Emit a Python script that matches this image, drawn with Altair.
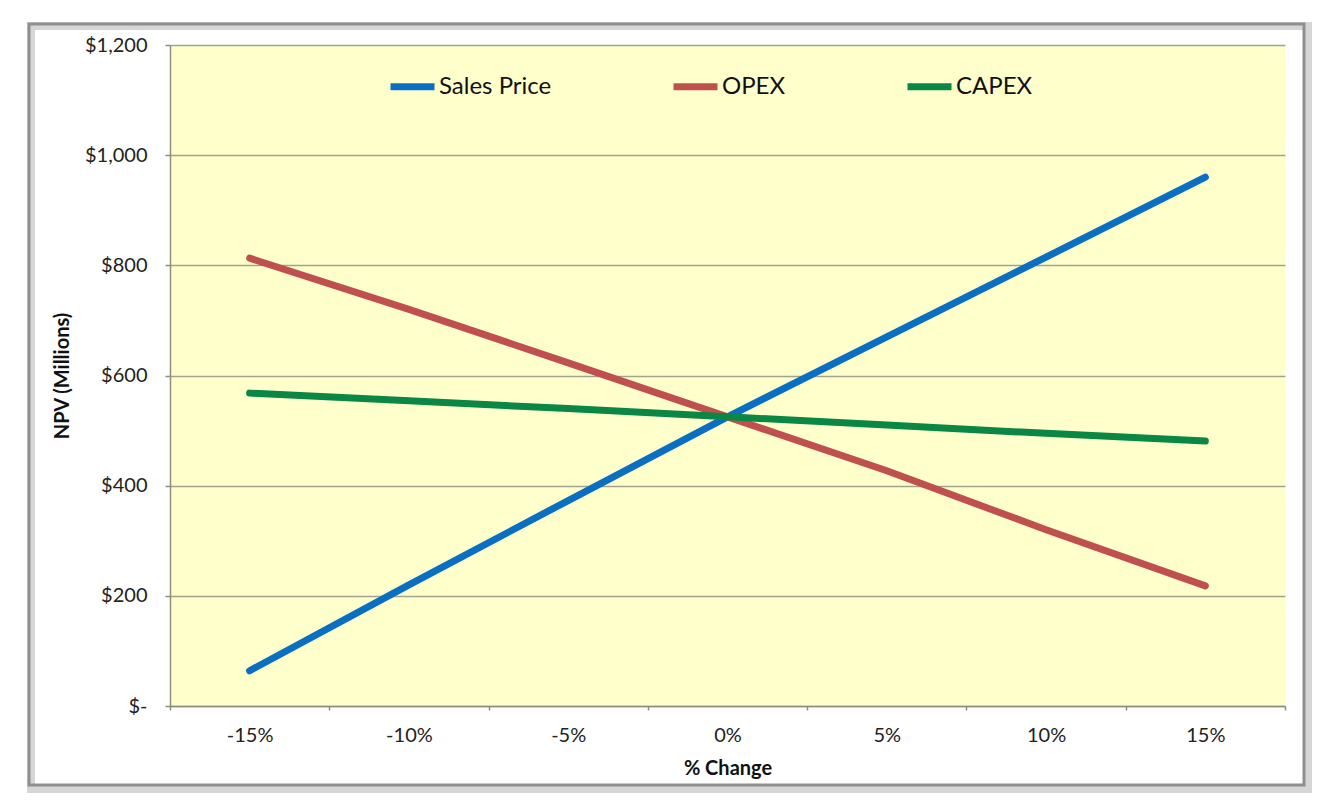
import altair as alt
import pandas as pd

categories = ["-15%", "-10%", "-5%", "0%", "5%", "10%", "15%"]
series_names = ["Sales Price", "OPEX", "CAPEX"]
sales_price = [64, 220, 373, 525, 670, 815, 960]
opex = [813, 720, 623, 525, 427, 320, 218]
capex = [568, 554, 540, 525, 510, 495, 481]
y_ticks = [0, 200, 400, 600, 800, 1000, 1200]
colors = ["#0A6FC2", "#C0504D", "#0A8645"]

rows = []
for name, vals in zip(series_names, [sales_price, opex, capex]):
    for c, v in zip(categories, vals):
        rows.append({"change": c, "series": name, "npv": v})
df = pd.DataFrame(rows)

FONT = "Lato"

W, H = 1115, 661

x_enc = alt.X(
    "change:N",
    sort=categories,
    scale=alt.Scale(paddingInner=0, paddingOuter=0),
    axis=alt.Axis(
        title="% Change",
        labelAngle=0,
        tickBand="extent",
        tickSize=4,
        labelPadding=15,
        labelFontSize=20,
        labelFont=FONT,
        labelColor="#222222",
        titleFontSize=20,
        titleFont=FONT,
        titleFontWeight="bold",
        titleColor="#111111",
        titlePadding=13,
        domainColor="#8E8E7E",
        domainWidth=1.5,
        tickColor="#8E8E7E",
        tickWidth=1.5,
        grid=False,
    ),
)

y_enc = alt.Y(
    "npv:Q",
    scale=alt.Scale(domain=[0, 1200], nice=False, zero=True),
    axis=alt.Axis(
        title="NPV (Millions)",
        values=y_ticks,
        labelExpr="datum.value == 0 ? '$-' : '$' + format(datum.value, ',')",
        tickSize=5,
        labelPadding=18,
        labelFontSize=20,
        labelFont=FONT,
        labelColor="#222222",
        titleFontSize=20,
        titleFont=FONT,
        titleFontWeight="bold",
        titleColor="#111111",
        titlePadding=12,
        domainColor="#8E8E7E",
        domainWidth=1.5,
        tickColor="#8E8E7E",
        tickWidth=1.5,
        grid=True,
        gridColor="#A3A28E",
        gridWidth=1.5,
    ),
)

lines = alt.Chart(df).mark_line(strokeWidth=7, strokeCap="round", strokeJoin="round").encode(
    x=x_enc,
    y=y_enc,
    color=alt.Color(
        "series:N",
        sort=series_names,
        scale=alt.Scale(domain=series_names, range=colors),
        legend=alt.Legend(
            title=None,
            orient="none",
            legendX=217,
            legendY=16,
            direction="horizontal",
            symbolType="stroke",
            symbolStrokeWidth=7,
            symbolSize=1936,
            labelFontSize=24,
            labelFont=FONT,
            labelColor="#111111",
            labelOffset=1,
            columnPadding=107,
        ),
    ),
)

frame_df = pd.DataFrame({"k": [0]})
shadow = alt.Chart(frame_df).mark_rect(fill=None, stroke="#BBBBBB", strokeWidth=8, opacity=0.6).encode(
    x=alt.value(-139), x2=alt.value(1138), y=alt.value(-19), y2=alt.value(744)
)
frame = alt.Chart(frame_df).mark_rect(fill=None, stroke="#8F8F8F", strokeWidth=3).encode(
    x=alt.value(-141), x2=alt.value(1134), y=alt.value(-21), y2=alt.value(740)
)

chart = alt.layer(shadow, frame, lines).properties(
    width=W,
    height=H,
    autosize=alt.AutoSizeParams(type="none"),
    padding={"left": 170, "top": 45, "right": 48, "bottom": 103},
    background="white",
).configure_view(fill="#FFFFCC", stroke=None)

chart.save("out.html", embed_options={"renderer": "svg", "actions": False})
